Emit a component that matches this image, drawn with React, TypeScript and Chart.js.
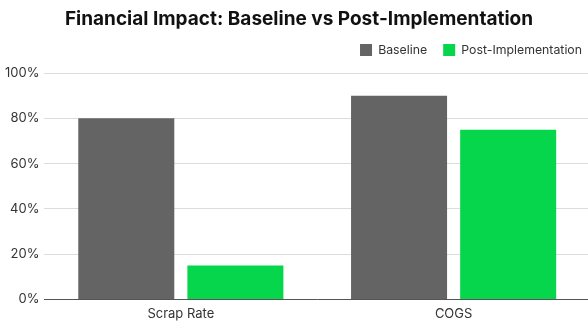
import React, { useEffect, useRef } from "react";
import { Chart, registerables } from "chart.js";

Chart.register(...registerables);

const categories = ["Scrap Rate", "COGS"];
const baselineValues = [80, 90];
const postValues = [15, 75];
const seriesNames = ["Baseline", "Post-Implementation"];
const titleText = "Financial Impact: Baseline vs Post-Implementation";

export default function App() {
  const ref = useRef<HTMLCanvasElement | null>(null);

  useEffect(() => {
    if (!ref.current) return;
    const spacer = (pos: string, size: number) => ({
      type: "linear",
      position: pos,
      display: true,
      grid: { display: false, drawTicks: false },
      border: { display: false },
      ticks: { display: false },
      afterFit: (s: any) => {
        if (pos === "top") s.height = size;
        else s.width = size;
      },
    });
    const chart = new Chart(ref.current, {
      type: "bar",
      data: {
        labels: categories,
        datasets: [
          {
            label: seriesNames[0],
            data: baselineValues,
            backgroundColor: "#646464",
            categoryPercentage: 0.8,
            barPercentage: 0.88,
          },
          {
            label: seriesNames[1],
            data: postValues,
            backgroundColor: "#05D64B",
            categoryPercentage: 0.8,
            barPercentage: 0.88,
          },
        ],
      },
      options: {
        animation: false,
        responsive: false,
        maintainAspectRatio: false,
        layout: { padding: 0 },
        plugins: {
          title: {
            display: true,
            text: titleText,
            color: "#111",
            font: { family: "Inter", size: 19, weight: "bold" },
            padding: { top: 8, bottom: -3 },
          },
          tooltip: { enabled: false },
          legend: {
            position: "top",
            align: "end",
            labels: {
              boxWidth: 12,
              boxHeight: 12,
              padding: 16,
              color: "#333",
              font: { family: "Inter", size: 12.3 },
            },
          },
        },
        scales: {
          x: {
            grid: { display: false, drawTicks: false },
            border: { display: true, color: "#555", width: 1 },
            ticks: { color: "#333", font: { family: "Inter", size: 13 }, padding: 7 },
          },
          y: {
            min: 0,
            max: 100,
            grid: { color: "#dcdcdc", drawTicks: false },
            border: { display: false },
            ticks: {
              stepSize: 20,
              padding: 5,
              color: "#333",
              font: { family: "Inter", size: 13 },
              callback: (v: any) => v + "%",
            },
          },
          spacerRight: spacer("right", 8) as any,
          spacerTop: spacer("top", 7) as any,
        },
      },
    });
    return () => chart.destroy();
  }, []);

  return (
    <div style={{ position: "absolute", left: 0, top: 0, width: 588, height: 322, background: "#fff", overflow: "hidden" }}>
      <canvas ref={ref} width={598} height={329} style={{ display: "block" }} />
    </div>
  );
}
